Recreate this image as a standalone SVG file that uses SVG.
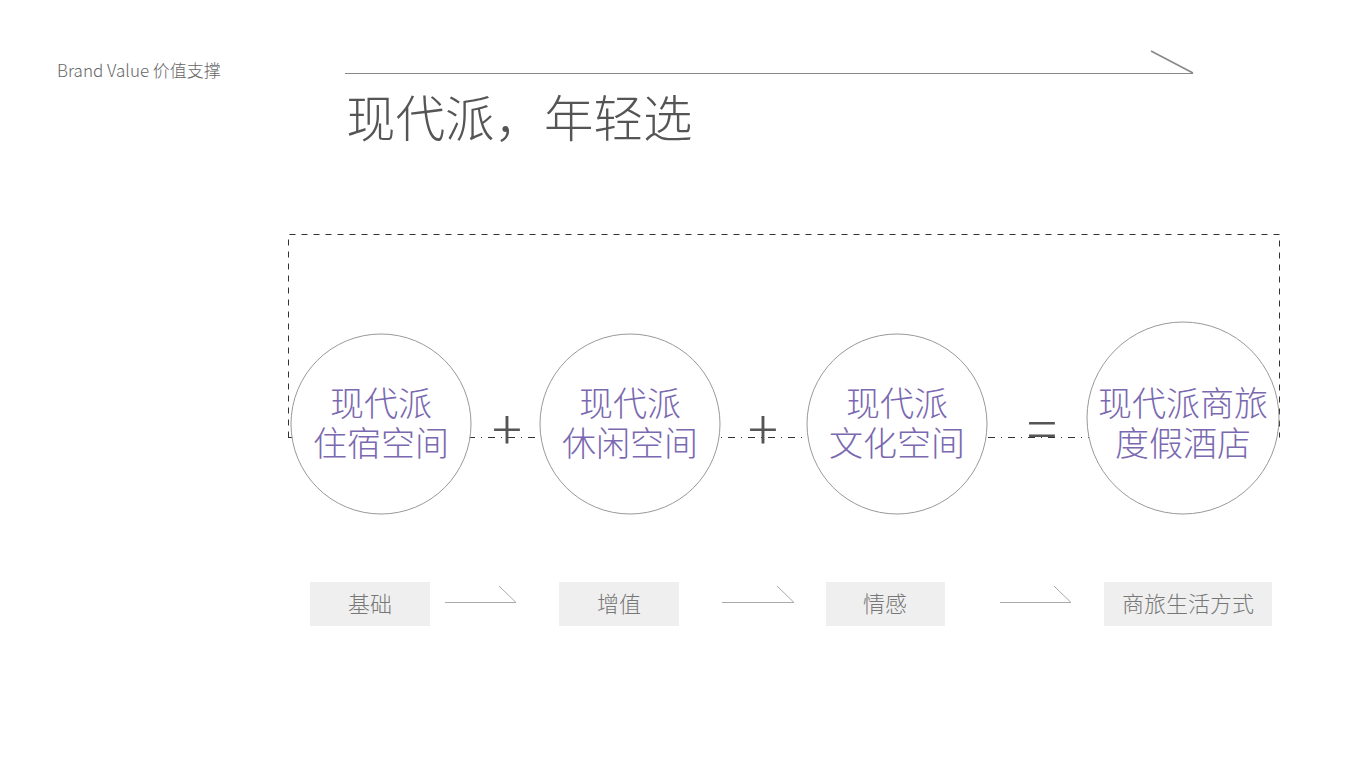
<svg xmlns="http://www.w3.org/2000/svg" width="1361" height="765" viewBox="0 0 1361 765">
<style>
.cjk{font-family:"Noto Sans CJK SC","Noto Sans",sans-serif;font-weight:300}
.circ{fill:#fff;stroke:#999;stroke-width:1}
.ct{fill:#7a68b0;font-size:34px;text-anchor:middle}
.op{fill:#555;font-size:56px;text-anchor:middle}
.box{fill:#efefef}
.bt{fill:#777;font-size:22px;text-anchor:middle}
.arr{stroke:#aaa;stroke-width:1;fill:none}
</style>
<rect width="1361" height="765" fill="#fff"/>
<g id="header">
<text x="57" y="77" class="cjk" font-size="17" fill="#666">Brand Value 价值支撑</text>
<line x1="345" y1="73.5" x2="1193" y2="73.5" stroke="#888" stroke-width="1"/>
<line x1="1151" y1="51" x2="1193" y2="73" stroke="#888" stroke-width="1.6"/>
<text x="346" y="137" class="cjk" font-size="49.5" fill="#555">现代派，年轻选</text>
</g>
<g id="connectors">
<path d="M288.5,437.5 V234.5 H1279.5 V437.5" fill="none" stroke="#333" stroke-width="1" stroke-dasharray="6 6"/>
<line x1="288" y1="437.5" x2="1280" y2="437.5" stroke="#333" stroke-width="1" stroke-dasharray="7 6 1 6"/>
<path class="arr" d="M445,602.5 H516 L499,586"/>
<path class="arr" d="M722,602.5 H794 L777,586"/>
<path class="arr" d="M1000,602.5 H1071 L1054,586"/>
</g>
<g id="node1">
<circle class="circ" cx="381" cy="424" r="90"/>
<text class="cjk ct" x="381" y="416">现代派</text>
<text class="cjk ct" x="381" y="456">住宿空间</text>
</g>
<g id="plus1"><text class="cjk op" x="507" y="450">+</text></g>
<g id="node2">
<circle class="circ" cx="630" cy="424" r="90"/>
<text class="cjk ct" x="630" y="416">现代派</text>
<text class="cjk ct" x="630" y="456">休闲空间</text>
</g>
<g id="plus2"><text class="cjk op" x="763" y="450">+</text></g>
<g id="node3">
<circle class="circ" cx="897" cy="424" r="90"/>
<text class="cjk ct" x="897" y="416">现代派</text>
<text class="cjk ct" x="897" y="456">文化空间</text>
</g>
<g id="equals"><text class="cjk op" x="1042" y="450">=</text></g>
<g id="node4">
<circle class="circ" cx="1183" cy="418" r="96"/>
<text class="cjk ct" x="1183" y="416">现代派商旅</text>
<text class="cjk ct" x="1183" y="456">度假酒店</text>
</g>
<g id="label1">
<rect class="box" x="310" y="582" width="120" height="44"/>
<text class="cjk bt" x="370" y="612">基础</text>
</g>
<g id="label2">
<rect class="box" x="559" y="582" width="120" height="44"/>
<text class="cjk bt" x="619" y="612">增值</text>
</g>
<g id="label3">
<rect class="box" x="826" y="582" width="119" height="44"/>
<text class="cjk bt" x="885" y="612">情感</text>
</g>
<g id="label4">
<rect class="box" x="1104" y="582" width="168" height="44"/>
<text class="cjk bt" x="1188" y="612">商旅生活方式</text>
</g>
</svg>
